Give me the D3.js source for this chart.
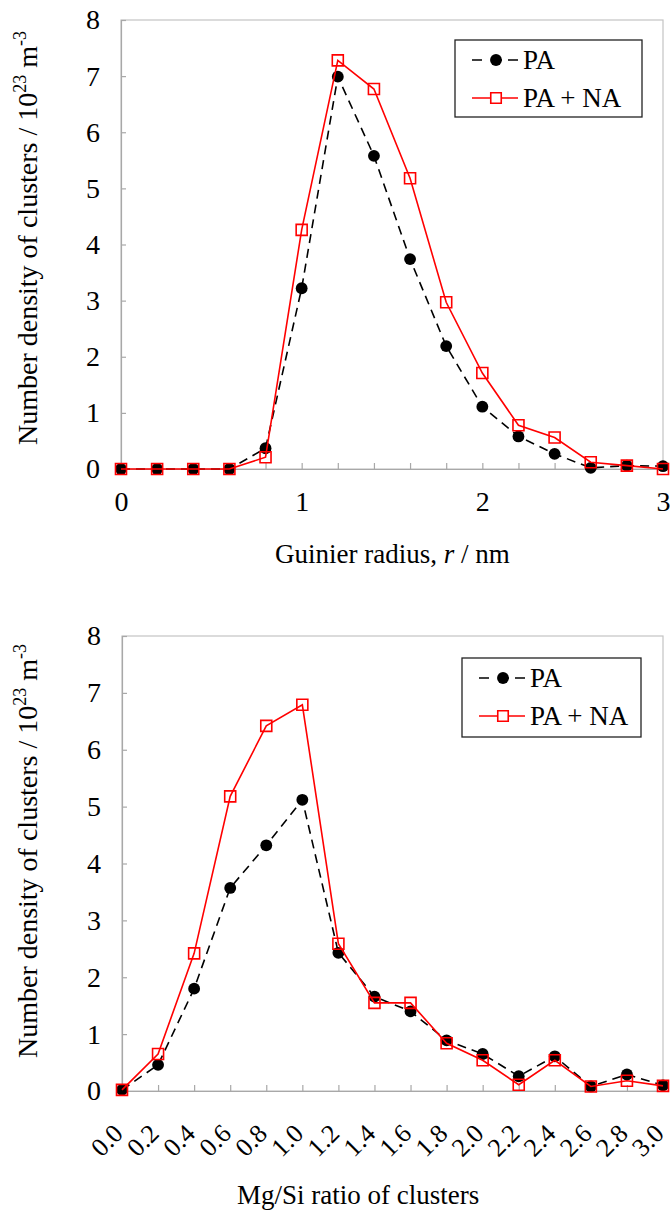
<!DOCTYPE html>
<html>
<head>
<meta charset="utf-8">
<script src="https://cdn.jsdelivr.net/npm/d3@7"></script>
<style>
  html, body { margin: 0; padding: 0; background: #fff; }
  svg { display: block; }
  svg text { font-family: "Liberation Serif", "Tinos", "Times New Roman", "Noto Serif", "DejaVu Serif", serif; }
</style>
</head>
<body>
<svg id="fig" width="670" height="1212"></svg>
<script>
// ---- Data: cluster number density (10^23 m^-3) ----
const radiusX    = [0, 0.2, 0.4, 0.6, 0.8, 1.0, 1.2, 1.4, 1.6, 1.8, 2.0, 2.2, 2.4, 2.6, 2.8, 3.0];
const radiusPA   = [0, 0, 0, 0, 0.37, 3.22, 6.99, 5.58, 3.74, 2.19, 1.11, 0.58, 0.27, 0.02, 0.06, 0.05];
const radiusPANA = [0, 0, 0, 0, 0.21, 4.26, 7.28, 6.77, 5.18, 2.97, 1.71, 0.78, 0.56, 0.12, 0.06, 0.0];

const ratioX    = [0, 0.2, 0.4, 0.6, 0.8, 1.0, 1.2, 1.4, 1.6, 1.8, 2.0, 2.2, 2.4, 2.6, 2.8, 3.0];
const ratioPA   = [0.02, 0.46, 1.80, 3.57, 4.32, 5.12, 2.43, 1.66, 1.40, 0.89, 0.65, 0.26, 0.61, 0.08, 0.29, 0.10];
const ratioPANA = [0.02, 0.65, 2.42, 5.18, 6.42, 6.79, 2.59, 1.55, 1.55, 0.84, 0.54, 0.11, 0.54, 0.08, 0.18, 0.09];

const yTickValues       = [0, 1, 2, 3, 4, 5, 6, 7, 8];
const radiusTickLabels  = [0, 1, 2, 3];
const ratioTickLabels   = ["0.0","0.2","0.4","0.6","0.8","1.0","1.2","1.4","1.6","1.8","2.0","2.2","2.4","2.6","2.8","3.0"];
const seriesNames       = ["PA", "PA + NA"];

const svg = d3.select("#fig");
const FRAME = "#c4c4c4", AXIS = "#a8a8a8", RED = "#ff0000";

function drawPanel(cfg) {
  const g = svg.append("g");
  const x = d3.scaleLinear().domain([0, 3]).range([cfg.left, cfg.right]);
  const y = d3.scaleLinear().domain([0, 8]).range([cfg.bottom, cfg.top]);

  // plot-area frame
  g.append("rect")
    .attr("x", cfg.left).attr("y", cfg.top)
    .attr("width", cfg.right - cfg.left).attr("height", cfg.bottom - cfg.top)
    .attr("fill", "none").attr("stroke", FRAME).attr("stroke-width", 1.2);

  // y axis, inward ticks
  const yAxis = g.append("g")
    .attr("transform", `translate(${cfg.left},0)`)
    .call(d3.axisLeft(y).tickValues(yTickValues).tickSize(-5).tickPadding(21).tickFormat(d3.format("d")));
  yAxis.attr("font-family", null).attr("font-size", 28);
  yAxis.selectAll("path, line").attr("stroke", AXIS).attr("stroke-width", 1.2);
  yAxis.selectAll("text").attr("fill", "#000");

  // x axis minor ticks at every 0.2
  const xAxis = g.append("g")
    .attr("transform", `translate(0,${cfg.bottom})`)
    .call(d3.axisBottom(x).tickValues(cfg.xValues).tickSize(-6).tickFormat(""));
  xAxis.selectAll("path, line").attr("stroke", AXIS).attr("stroke-width", 1.2);

  // x tick labels
  const xLab = g.append("g")
    .attr("transform", `translate(0,${cfg.bottom})`)
    .call(d3.axisBottom(x).tickValues(cfg.labelValues).tickSize(0).tickPadding(cfg.labelPad)
      .tickFormat((d, i) => cfg.labelText[i]));
  xLab.select(".domain").remove();
  xLab.attr("font-family", null).attr("font-size", cfg.rotate ? 26 : 28);
  xLab.selectAll("text").attr("fill", "#000");
  if (cfg.rotate) {
    xLab.selectAll("text")
      .attr("x", 0).attr("y", 0).attr("dy", 0)
      .attr("text-anchor", "end")
      .attr("transform", "translate(2,44) rotate(-45)");
  }

  // series
  const line = d3.line().x(d => x(d[0])).y(d => y(d[1]));
  const pa   = cfg.xs.map((v, i) => [v, cfg.pa[i]]);
  const pana = cfg.xs.map((v, i) => [v, cfg.pana[i]]);

  g.append("path").datum(pa).attr("d", line)
    .attr("fill", "none").attr("stroke", "#000").attr("stroke-width", 1.6)
    .attr("stroke-dasharray", "9,6");
  g.append("g").selectAll("path").data(pa).join("path")
    .attr("transform", d => `translate(${x(d[0])},${y(d[1])})`)
    .attr("d", d3.symbol(d3.symbolCircle, 110))
    .attr("fill", "#000");

  g.append("path").datum(pana).attr("d", line)
    .attr("fill", "none").attr("stroke", RED).attr("stroke-width", 1.6);
  g.append("g").selectAll("path").data(pana).join("path")
    .attr("transform", d => `translate(${x(d[0])},${y(d[1])})`)
    .attr("d", d3.symbol(d3.symbolSquare, 121))
    .attr("fill", "none").attr("stroke", RED).attr("stroke-width", 1.6);

  // legend
  const L = cfg.legend;
  const lg = g.append("g");
  lg.append("rect").attr("x", L.x).attr("y", L.y).attr("width", L.w).attr("height", L.h)
    .attr("fill", "#fff").attr("stroke", "#222").attr("stroke-width", 1.3);
  const rows = [L.y + 20, L.y + 58];
  const lx0 = L.x + 17, lx1 = L.x + 63, mx = L.x + 41;
  // PA row
  lg.append("line").attr("x1", lx0).attr("x2", lx1).attr("y1", rows[0]).attr("y2", rows[0])
    .attr("stroke", "#000").attr("stroke-width", 1.6).attr("stroke-dasharray", "10,14,6,6");
  lg.append("path").attr("transform", `translate(${mx},${rows[0]})`)
    .attr("d", d3.symbol(d3.symbolCircle, 110)).attr("fill", "#000");
  // PA + NA row
  lg.append("line").attr("x1", lx0).attr("x2", lx1).attr("y1", rows[1]).attr("y2", rows[1])
    .attr("stroke", RED).attr("stroke-width", 1.6);
  lg.append("path").attr("transform", `translate(${mx},${rows[1]})`)
    .attr("d", d3.symbol(d3.symbolSquare, 110)).attr("fill", "#fff")
    .attr("stroke", RED).attr("stroke-width", 1.6);
  lg.selectAll("text.lab").data(seriesNames).join("text")
    .attr("class", "lab")
    .attr("x", L.x + 68).attr("y", (d, i) => rows[i] + 9)
    .attr("font-size", 27).attr("fill", "#000").text(d => d);

  // y-axis title
  const yt = g.append("text")
    .attr("transform", `translate(${cfg.yTitleX},${cfg.yTitleY}) rotate(-90)`)
    .attr("text-anchor", "middle").attr("font-size", 28).attr("fill", "#000");
  yt.append("tspan").text("Number density of clusters / 10");
  yt.append("tspan").attr("font-size", 18).attr("dy", -11).text("23");
  yt.append("tspan").attr("dy", 11).text(" m");
  yt.append("tspan").attr("font-size", 18).attr("dy", -11).text("-3");

  // x-axis title
  const xt = g.append("text")
    .attr("x", cfg.xTitleX).attr("y", cfg.xTitleY)
    .attr("font-size", 27).attr("fill", "#000");
  cfg.xTitle.forEach(part => {
    xt.append("tspan").attr("font-style", part.italic ? "italic" : null).text(part.t);
  });
}

drawPanel({
  left: 121, right: 663, top: 20, bottom: 469,
  xs: radiusX, pa: radiusPA, pana: radiusPANA,
  xValues: radiusX, labelValues: radiusTickLabels, labelText: radiusTickLabels.map(String),
  labelPad: 22, rotate: false,
  legend: { x: 455, y: 40, w: 187, h: 77 },
  yTitleX: 37, yTitleY: 238,
  xTitleX: 275, xTitleY: 563,
  xTitle: [{ t: "Guinier radius, " }, { t: "r", italic: true }, { t: " / nm" }]
});

drawPanel({
  left: 122, right: 663, top: 636, bottom: 1091,
  xs: ratioX, pa: ratioPA, pana: ratioPANA,
  xValues: ratioX, labelValues: ratioX, labelText: ratioTickLabels,
  labelPad: 0, rotate: true,
  legend: { x: 462, y: 658, w: 179, h: 79 },
  yTitleX: 37, yTitleY: 851,
  xTitleX: 237, xTitleY: 1204,
  xTitle: [{ t: "Mg/Si ratio of clusters" }]
});
</script>
</body>
</html>
